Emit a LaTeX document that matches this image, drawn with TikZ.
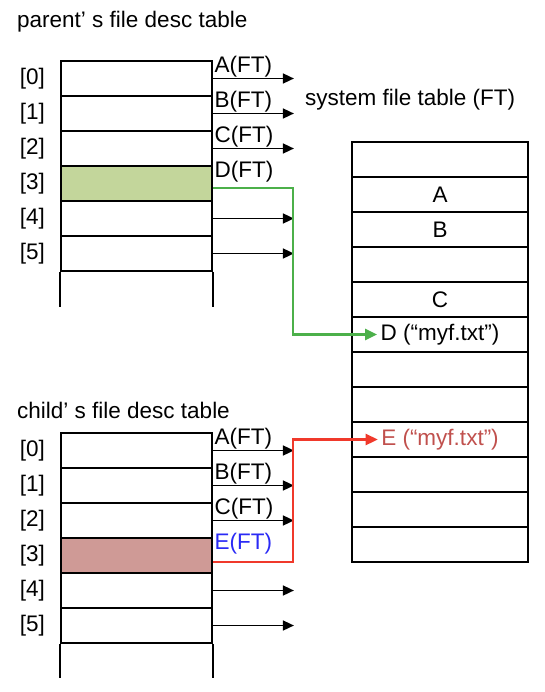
\documentclass[tikz,border=0pt]{standalone}
\usepackage{fontspec}
\setmainfont{Liberation Sans}
\usetikzlibrary{arrows.meta, positioning}
\definecolor{usedgreen}{HTML}{C3D69B}
\definecolor{usedred}{HTML}{CF9A96}
\definecolor{linkgreen}{HTML}{4CB04A}
\definecolor{linkred}{HTML}{F0392B}
\definecolor{ftred}{HTML}{C0504D}
\definecolor{ftblue}{HTML}{2A2AF5}

\begin{document}
\begin{tikzpicture}[x=1pt, y=-1pt,
font=\fontsize{22.5}{27}\selectfont,
cell/.style={rectangle, draw, line width=1.8pt, minimum width=151pt, minimum height=35pt, inner sep=0pt},
slot/.style={rectangle, draw, line width=1.8pt, minimum width=176pt, minimum height=35pt, inner sep=0pt},
idx/.style={inner sep=1pt},
title/.style={anchor=west, inner sep=0pt},
ptr/.style={-{Triangle[length=11pt,width=10pt]}, line width=1.6pt},
ftlabel/.style={anchor=south west, inner sep=1.5pt},
dlink/.style={-{Triangle[length=12pt,width=11pt]}, line width=2.4pt, linkgreen},
elink/.style={-{Triangle[length=12pt,width=11pt]}, line width=2.4pt, linkred}
]
\useasboundingbox (0,0) rectangle (544,692);

% parent's table
\node[title] (ptitle) at (17,22) {parent’ s file desc table};
\foreach \i/\f in {0/white,1/white,2/white,3/usedgreen,4/white,5/white}{
  \node[cell, fill=\f] (p\i) at (136.5,{78.5+35*\i}) {};
  \node[idx, left=14pt of p\i.west] (pi\i) {[\i]};
}
\draw[line width=1.8pt] (p5.south west) -- ++(0,35);
\draw[line width=1.8pt] (p5.south east) -- ++(0,35);

\foreach \i/\t in {0/A,1/B,2/C}{
  \coordinate (pe\i) at ([xshift=81pt]p\i.east);
  \draw[ptr] (p\i.east) -- (pe\i);
  \node[ftlabel] (pl\i) at (p\i.east) {\t(FT)};
}
\node[ftlabel] (pl3) at (p3.east) {D(FT)};
\foreach \i in {4,5}{
  \coordinate (pe\i) at ([xshift=81pt]p\i.east);
  \draw[ptr] (p\i.east) -- (pe\i);
}

% system file table
\node[title] (stitle) at (305,100) {system file table (FT)};
\foreach \i/\t in {0/{},1/A,2/B,3/{},4/C,5/{},6/{},7/{},8/{},9/{},10/{},11/{}}
  \node[slot] (s\i) at (440,{159.5+35*\i}) {\t};
\node (dtext) at (s5) {D (“myf.txt”)};
\node[text=ftred] (etext) at (s8) {E (“myf.txt”)};

% child's table
\node[title] (ctitle) at (17,410) {child’ s file desc table};
\foreach \i/\f in {0/white,1/white,2/white,3/usedred,4/white,5/white}{
  \node[cell, fill=\f] (c\i) at (136.5,{450.5+35*\i}) {};
  \node[idx, left=14pt of c\i.west] (ci\i) {[\i]};
}
\draw[line width=1.8pt] (c5.south west) -- ++(0,34);
\draw[line width=1.8pt] (c5.south east) -- ++(0,34);

\foreach \i/\t in {0/A,1/B,2/C}{
  \coordinate (ce\i) at ([xshift=81pt]c\i.east);
  \draw[ptr] (c\i.east) -- (ce\i);
  \node[ftlabel] (cl\i) at (c\i.east) {\t(FT)};
}
\node[ftlabel, text=ftblue] (cl3) at (c3.east) {E(FT)};
\foreach \i in {4,5}{
  \coordinate (ce\i) at ([xshift=81pt]c\i.east);
  \draw[ptr] (c\i.east) -- (ce\i);
}

% shared entries
\draw[dlink] ([yshift=-4.5pt]p3.east) -- ++(80,0) |- (dtext.west);
\draw[elink] ([yshift=-6.5pt]c3.east) -- ++(80,0) |- (etext.west);
\end{tikzpicture}
\end{document}
